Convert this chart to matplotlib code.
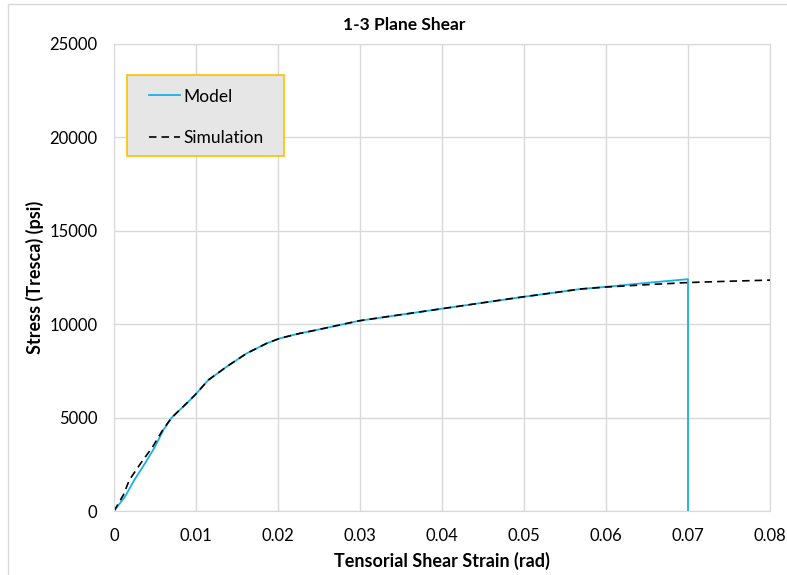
import numpy as np
import matplotlib.pyplot as plt
from matplotlib.patches import Rectangle

plt.rcParams['font.family'] = ['Lato', 'DejaVu Sans']

# strain (rad) / stress (psi) curves
model_strain = [0, 0.00134, 0.00248, 0.00378, 0.005, 0.00602, 0.00703, 0.00927,
                0.00996, 0.0115, 0.01374, 0.01618, 0.01862, 0.02024, 0.02268,
                0.0247, 0.0288, 0.03, 0.035, 0.04, 0.045, 0.05, 0.0544,
                0.0568, 0.06, 0.065, 0.07, 0.07]
model_stress = [0, 765, 1660, 2550, 3440, 4335, 4995, 5940,
                6250, 7010, 7725, 8440, 8975, 9245, 9510,
                9690, 10080, 10190, 10510, 10830, 11150, 11470, 11730,
                11880, 12000, 12215, 12410, 0]

sim_strain = [0, 0.00114, 0.00187, 0.00325, 0.00472, 0.00594, 0.00703, 0.00927,
              0.00996, 0.0115, 0.01374, 0.01618, 0.01862, 0.02024, 0.02268,
              0.0247, 0.0288, 0.03, 0.035, 0.04, 0.045, 0.05, 0.0544,
              0.0568, 0.06, 0.065, 0.07, 0.075, 0.08]
sim_stress = [0, 855, 1660, 2550, 3440, 4335, 4995, 5940,
              6250, 7010, 7725, 8440, 8975, 9245, 9510,
              9690, 10080, 10190, 10510, 10830, 11150, 11470, 11730,
              11880, 11990, 12115, 12230, 12300, 12360]

x_ticks = [0, 0.01, 0.02, 0.03, 0.04, 0.05, 0.06, 0.07, 0.08]
x_ticklabels = ['0', '0.01', '0.02', '0.03', '0.04', '0.05', '0.06', '0.07', '0.08']
y_ticks = [0, 5000, 10000, 15000, 20000, 25000]

W, H = 787, 575
fig = plt.figure(figsize=(W / 100, H / 100), dpi=100)
ax = fig.add_axes([114 / W, 1 - 511 / H, 656 / W, 467 / H])

ax.plot(model_strain, model_stress, color='#1AAFE6', lw=1.3, label='Model')
ax.plot(sim_strain, sim_stress, color='black', lw=1.2, ls=(0, (4.5, 3)),
        label='Simulation')

ax.set_xlim(0, 0.08)
ax.set_ylim(0, 25000)
ax.set_xticks(x_ticks)
ax.set_xticklabels(x_ticklabels)
ax.set_yticks(y_ticks)
ax.grid(True, color='#d9d9d9', lw=1)
ax.set_axisbelow(True)
for s in ax.spines.values():
    s.set_color('#d9d9d9')
ax.tick_params(length=0, labelsize=12, labelcolor='black', pad=12)

ax.set_xlabel('Tensorial Shear Strain (rad)', fontsize=13, fontweight='bold',
              labelpad=6)
ax.set_ylabel('Stress (Tresca) (psi)', fontsize=13, fontweight='bold',
              labelpad=4)
fig.text(404 / W, 1 - 25 / H, '1-3 Plane Shear', fontsize=12.5,
         fontweight='bold', ha='center', va='center')

# legend box drawn as a patch, entries placed on top without a frame
ax.add_patch(Rectangle((13 / 656, (511 - 156) / 467), 157 / 656, 81 / 467,
                       transform=ax.transAxes, facecolor='#e6e6e6',
                       edgecolor='#FFC000', lw=1.2, zorder=4))
leg = ax.legend(loc='upper left', bbox_to_anchor=(35 / 656, (511 - 88.5) / 467),
                borderaxespad=0, borderpad=0, fontsize=12.5, frameon=False,
                labelspacing=1.46, handlelength=1.79, handletextpad=0.2)
leg.set_zorder(5)

# light outline around the chart area
fig.patches.append(Rectangle((8 / W, -0.05), 1.0, 1 - 4 / H + 0.05,
                             transform=fig.transFigure, fill=False,
                             edgecolor='#d9d9d9', lw=1, clip_on=False))

fig.savefig('out.png', dpi=100)
